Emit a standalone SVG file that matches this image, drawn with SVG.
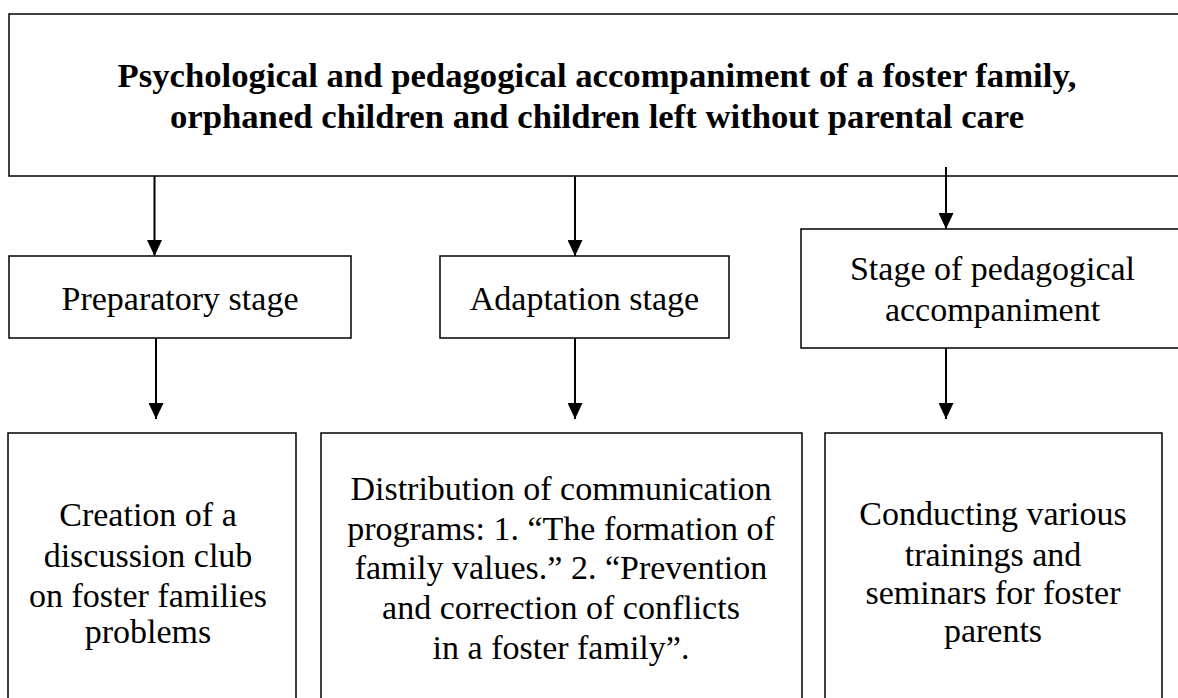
<svg xmlns="http://www.w3.org/2000/svg" width="1178" height="698" viewBox="0 0 1178 698">
<defs>
<style>
.box{fill:#fff;stroke:#000;stroke-width:1.5}
.t{font-family:"Liberation Serif","Times New Roman",serif;font-size:34px;fill:#000;text-anchor:middle}
.b{font-weight:bold;font-size:34.7px}
.c{stroke:#000;stroke-width:2;fill:none}
</style>
<marker id="ah" markerUnits="userSpaceOnUse" markerWidth="16" markerHeight="15" refX="16" refY="7.5" orient="auto">
<path d="M0,0 L16,7.5 L0,15 Z" fill="#000"/>
</marker>
</defs>
<rect width="1178" height="698" fill="#fff"/>
<g id="top">
<rect class="box" x="9" y="14" width="1180" height="162"/>
<text class="t b" x="597" y="87">Psychological and pedagogical accompaniment of a foster family,</text>
<text class="t b" x="597" y="128">orphaned children and children left without parental care</text>
</g>
<g id="prep">
<rect class="box" x="9" y="256" width="342" height="82"/>
<text class="t" x="180" y="310">Preparatory stage</text>
</g>
<g id="adapt">
<rect class="box" x="440" y="256" width="289" height="82"/>
<text class="t" x="584.5" y="310">Adaptation stage</text>
</g>
<g id="pedag">
<rect class="box" x="801" y="229" width="390" height="119"/>
<text class="t" x="992.5" y="280">Stage of pedagogical</text>
<text class="t" x="992.5" y="321">accompaniment</text>
</g>
<g id="club">
<rect class="box" x="8" y="433" width="288" height="280"/>
<text class="t" x="148" y="526">Creation of a</text>
<text class="t" x="148" y="567">discussion club</text>
<text class="t" x="148" y="607">on foster families</text>
<text class="t" x="148" y="643">problems</text>
</g>
<g id="programs">
<rect class="box" x="321" y="433" width="481" height="280"/>
<text class="t" x="561" y="500">Distribution of communication</text>
<text class="t" x="561" y="540">programs: 1. “The formation of</text>
<text class="t" x="561" y="579">family values.” 2. “Prevention</text>
<text class="t" x="561" y="619">and correction of conflicts</text>
<text class="t" x="561" y="659">in a foster family”.</text>
</g>
<g id="trainings">
<rect class="box" x="825" y="433" width="337" height="280"/>
<text class="t" x="993" y="525">Conducting various</text>
<text class="t" x="993" y="566">trainings and</text>
<text class="t" x="993" y="604">seminars for foster</text>
<text class="t" x="993" y="642">parents</text>
</g>
<g id="connectors">
<line class="c" x1="154.5" y1="176" x2="154.5" y2="256" marker-end="url(#ah)"/>
<line class="c" x1="575" y1="176" x2="575" y2="256" marker-end="url(#ah)"/>
<line class="c" x1="946" y1="167" x2="946" y2="229" marker-end="url(#ah)"/>
<line class="c" x1="156" y1="338" x2="156" y2="419" marker-end="url(#ah)"/>
<line class="c" x1="575" y1="338" x2="575" y2="419" marker-end="url(#ah)"/>
<line class="c" x1="946" y1="348" x2="946" y2="419" marker-end="url(#ah)"/>
</g>
</svg>
